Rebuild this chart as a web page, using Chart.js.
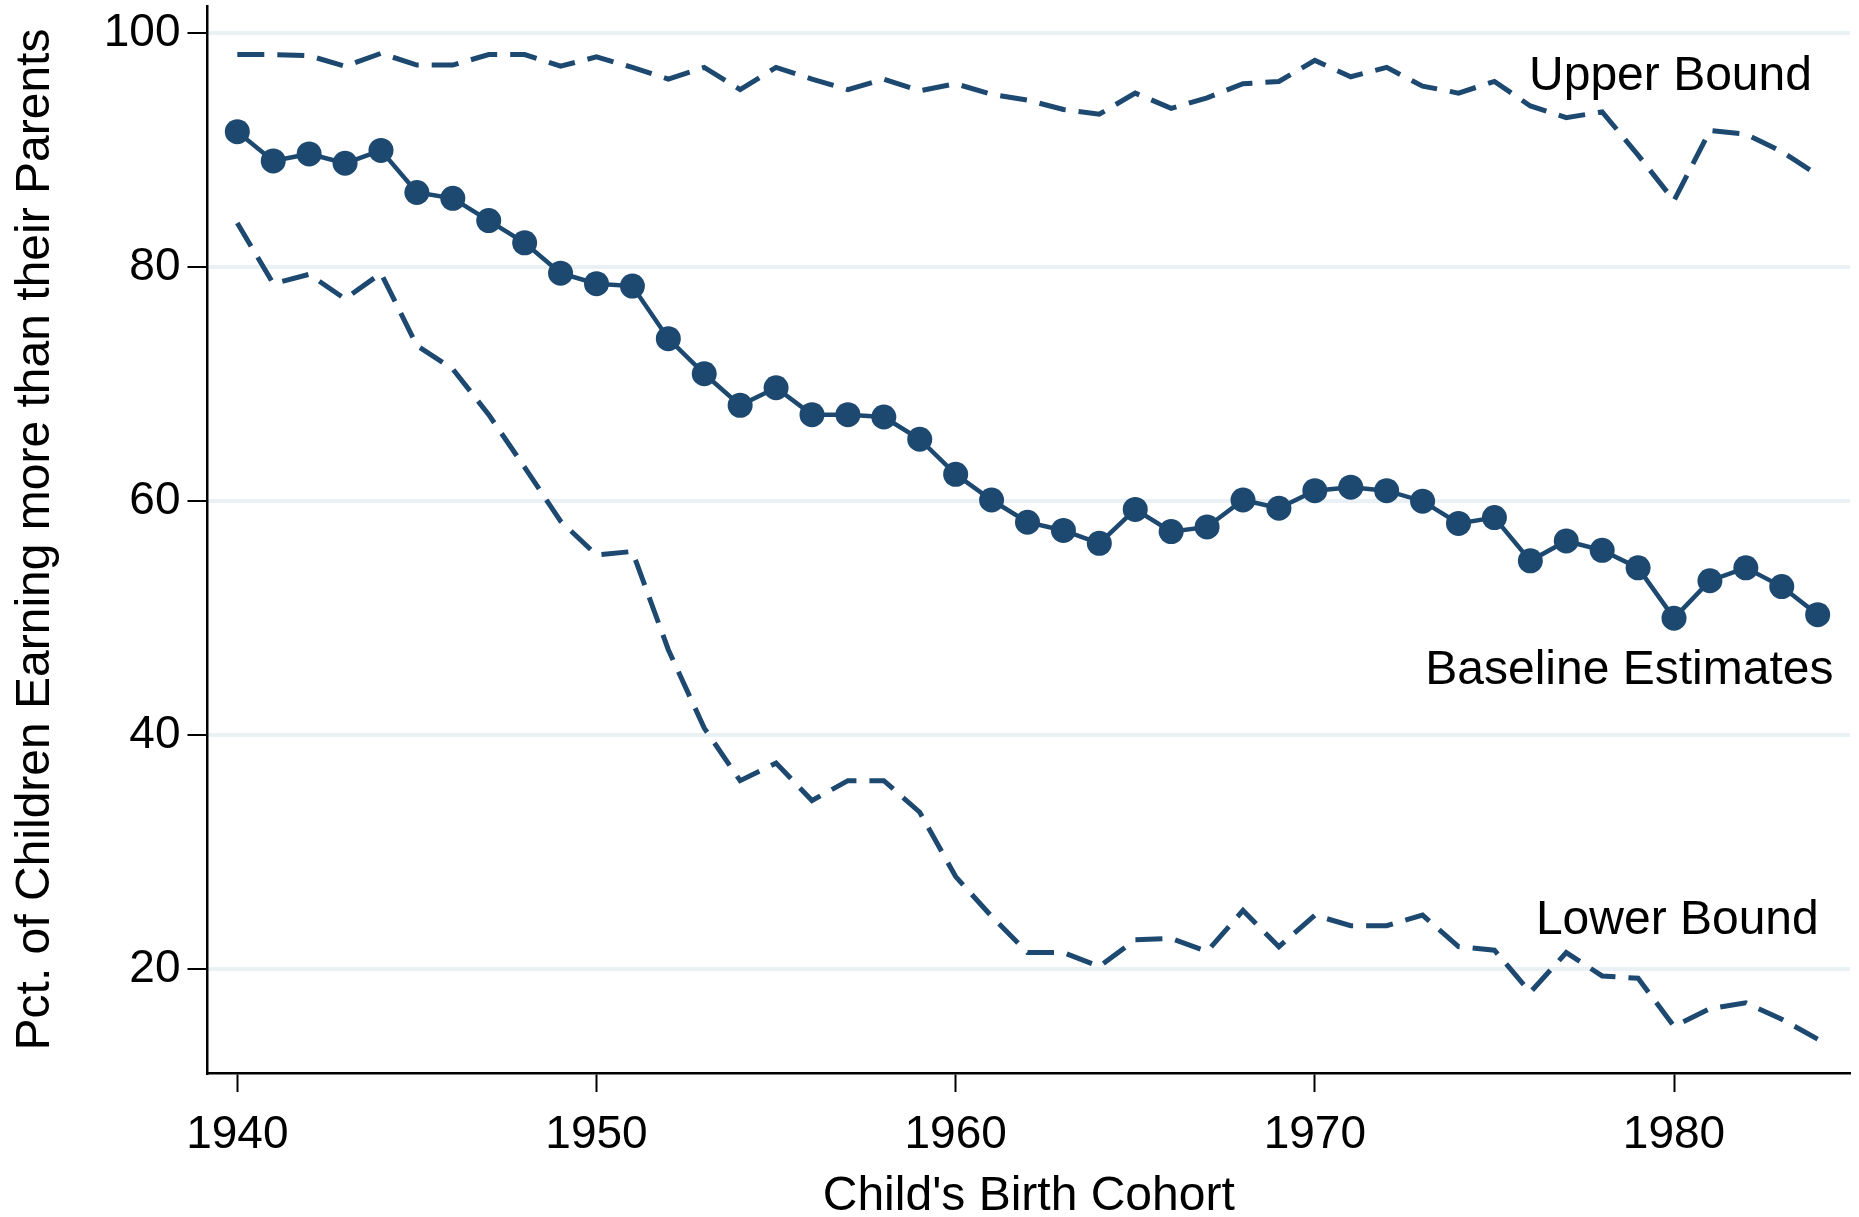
<!DOCTYPE html>
<html lang="en">
<head>
    <meta charset="UTF-8">
    <title>Children Earning More Than Their Parents</title>
    <script src="https://cdn.jsdelivr.net/npm/chart.js"></script>
    <style>
        body {
            margin: 0;
            padding: 0;
            background: #fff;
        }
        canvas {
            display: block;
        }
    </style>
</head>
<body>
    <canvas id="mobilityChart" width="1859" height="1217"></canvas>

    <script>
        // birth cohorts (x axis)
        const cohorts = [
            1940, 1941, 1942, 1943, 1944, 1945, 1946, 1947, 1948, 1949,
            1950, 1951, 1952, 1953, 1954, 1955, 1956, 1957, 1958, 1959,
            1960, 1961, 1962, 1963, 1964, 1965, 1966, 1967, 1968, 1969,
            1970, 1971, 1972, 1973, 1974, 1975, 1976, 1977, 1978, 1979,
            1980, 1981, 1982, 1983, 1984
        ];

        // pct of children earning more than their parents
        const baseline = [
            91.6, 89.1, 89.7, 88.9, 90.0, 86.4, 85.9, 84.0, 82.1, 79.5,
            78.6, 78.4, 73.9, 70.9, 68.2, 69.7, 67.4, 67.4, 67.2, 65.3,
            62.3, 60.1, 58.2, 57.5, 56.4, 59.3, 57.4, 57.8, 60.1, 59.4,
            60.9, 61.2, 60.9, 60.0, 58.1, 58.6, 54.9, 56.6, 55.8, 54.3,
            50.0, 53.2, 54.3, 52.7, 50.3
        ];
        const upperBound = [
            98.2, 98.2, 98.1, 97.2, 98.3, 97.3, 97.3, 98.2, 98.2, 97.2,
            98.0, 97.1, 96.1, 97.1, 95.2, 97.1, 96.1, 95.2, 96.1, 95.1,
            95.7, 94.8, 94.3, 93.5, 93.1, 94.9, 93.6, 94.5, 95.7, 95.9,
            97.7, 96.3, 97.1, 95.5, 94.9, 95.9, 93.8, 92.8, 93.3, 89.6,
            85.7, 91.7, 91.4, 89.9, 87.9
        ];
        const lowerBound = [
            83.8, 78.6, 79.4, 77.3, 79.5, 73.3, 71.3, 67.4, 62.9, 58.3,
            55.4, 55.7, 47.3, 40.6, 36.1, 37.6, 34.4, 36.1, 36.1, 33.4,
            27.9, 24.5, 21.4, 21.4, 20.2, 22.5, 22.6, 21.5, 25.0, 21.9,
            24.6, 23.7, 23.7, 24.6, 21.9, 21.6, 18.0, 21.4, 19.4, 19.2,
            15.1, 16.6, 17.1, 15.7, 14.0
        ];

        const xTicks = [1940, 1950, 1960, 1970, 1980];
        const yTicks = [20, 40, 60, 80, 100];

        // text placed next to the lines (right edge, text baseline)
        const seriesLabels = [
            { text: 'Upper Bound', x: 1983.84, y: 95.15 },
            { text: 'Baseline Estimates', x: 1984.44, y: 44.33 },
            { text: 'Lower Bound', x: 1984.03, y: 23.0 }
        ];

        const navy = '#1d4971';
        const fontFamily = '"Liberation Sans", Arial, sans-serif';

        const toPoints = values => cohorts.map((c, i) => ({ x: c, y: values[i] }));

        // draws the inline series names with the chart's own scales
        const seriesLabelPlugin = {
            id: 'seriesLabels',
            afterDatasetsDraw(chart) {
                const { ctx, scales: { x, y } } = chart;
                ctx.save();
                ctx.font = '48px ' + fontFamily;
                ctx.fillStyle = '#000';
                ctx.textAlign = 'right';
                ctx.textBaseline = 'alphabetic';
                seriesLabels.forEach(l => {
                    ctx.fillText(l.text, x.getPixelForValue(l.x), y.getPixelForValue(l.y));
                });
                ctx.restore();
            }
        };

        const ctx = document.getElementById('mobilityChart').getContext('2d');
        new Chart(ctx, {
            type: 'line',
            data: {
                datasets: [
                    {
                        label: 'Baseline Estimates',
                        data: toPoints(baseline),
                        borderColor: navy,
                        backgroundColor: navy,
                        borderWidth: 4.5,
                        pointRadius: 12.5,
                        pointBackgroundColor: navy,
                        pointBorderWidth: 0,
                        tension: 0
                    },
                    {
                        label: 'Upper Bound',
                        data: toPoints(upperBound),
                        borderColor: navy,
                        borderWidth: 5,
                        borderDash: [27, 13],
                        pointRadius: 0,
                        tension: 0
                    },
                    {
                        label: 'Lower Bound',
                        data: toPoints(lowerBound),
                        borderColor: navy,
                        borderWidth: 5,
                        borderDash: [27, 13],
                        pointRadius: 0,
                        tension: 0
                    }
                ]
            },
            options: {
                responsive: false,
                animation: false,
                // no automatic room for the markers, keep the plot box fixed
                layout: { autoPadding: false, padding: { top: 6, right: 9, left: 0, bottom: 0 } },
                plugins: {
                    legend: { display: false },
                    tooltip: { enabled: false }
                },
                scales: {
                    x: {
                        type: 'linear',
                        min: 1939.17,
                        max: 1984.9,
                        // fixed axis band, no extra room for edge labels
                        afterFit: s => {
                            s.height = 144;
                            s.paddingLeft = 0;
                            s.paddingRight = 0;
                        },
                        afterBuildTicks: s => { s.ticks = xTicks.map(v => ({ value: v })); },
                        border: { display: true, color: '#000', width: 2.5 },
                        grid: {
                            drawOnChartArea: false,
                            drawTicks: true,
                            tickLength: 19,
                            tickColor: '#000',
                            tickWidth: 2
                        },
                        ticks: {
                            color: '#000',
                            font: { family: fontFamily, size: 46 },
                            padding: 16,
                            maxRotation: 0,
                            autoSkip: false,
                            callback: v => String(v)
                        },
                        title: {
                            display: true,
                            text: "Child's Birth Cohort",
                            color: '#000',
                            font: { family: fontFamily, size: 48, lineHeight: 0.85 },
                            padding: { top: 0, bottom: 0 }
                        }
                    },
                    y: {
                        min: 11.1,
                        max: 102.35,
                        afterFit: s => {
                            s.width = 207.5;
                            s.paddingTop = 0;
                            s.paddingBottom = 0;
                        },
                        afterBuildTicks: s => { s.ticks = yTicks.map(v => ({ value: v })); },
                        border: { display: true, color: '#000', width: 2.5 },
                        grid: {
                            color: '#eaf1f4',
                            lineWidth: 4,
                            drawTicks: true,
                            tickLength: 20,
                            tickColor: '#000',
                            tickWidth: 2
                        },
                        ticks: {
                            color: '#000',
                            font: { family: fontFamily, size: 46 },
                            padding: 7,
                            autoSkip: false
                        },
                        title: {
                            display: true,
                            text: 'Pct. of Children Earning more than their Parents',
                            color: '#000',
                            font: { family: fontFamily, size: 48, lineHeight: 1 },
                            padding: { top: 12, bottom: 0 }
                        }
                    }
                }
            },
            plugins: [seriesLabelPlugin]
        });
    </script>
</body>
</html>
